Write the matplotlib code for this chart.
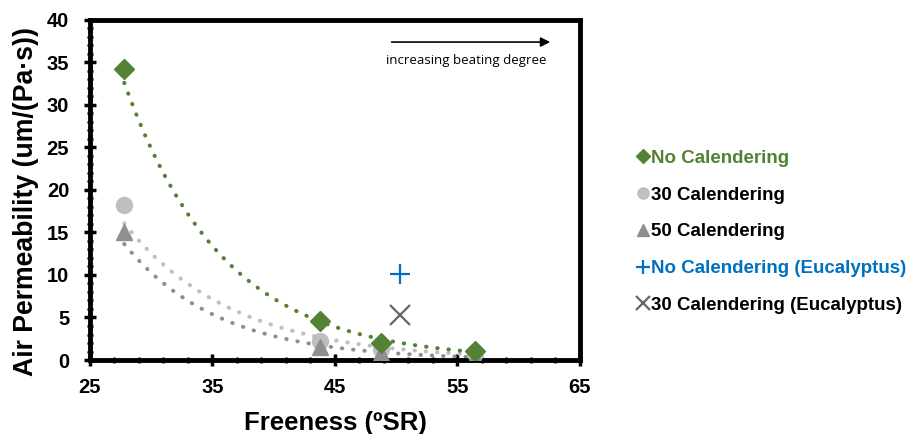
import numpy as np
import matplotlib
matplotlib.use("Agg")
import matplotlib.pyplot as plt
from matplotlib.ticker import MultipleLocator, FixedLocator

plt.rcParams['font.family'] = ['Liberation Sans', 'DejaVu Sans']

freeness = [27.8, 43.8, 48.75, 56.4]
no_cal = [34.2, 4.6, 2.0, 1.1]
cal30 = [18.2, 2.2, 1.3, 0.8]
cal50 = [15.0, 1.5, 0.8, 0.4]
euc_x = [50.3]
euc_no_cal = [10.1]
euc_cal30 = [5.3]
x_ticks = [25, 35, 45, 55, 65]

green = '#548235'
lgray = '#bfbfbf'
dgray = '#8f8f8f'
blue = '#0070c0'
xgray = '#666666'

fig = plt.figure(figsize=(9.09, 4.34), dpi=100)
ax = fig.add_axes([0.099, 0.1705, 0.539, 0.7835])

def exp_trend(x, y):
    b, a = np.polyfit(np.array(x), np.log(np.array(y)), 1)
    xs = np.linspace(min(x), max(x), 200)
    return xs, np.exp(a + b * xs)

for ys, c in [(cal50, dgray), (cal30, lgray), (no_cal, green)]:
    xs, yt = exp_trend(freeness, ys)
    ax.plot(xs, yt, linestyle=(0, (0.1, 2.7)), dash_capstyle='round', color=c, lw=2.9, zorder=2)

h1, = ax.plot(freeness, no_cal, 'D', color=green, ms=10, ls='none', zorder=4, label='No Calendering')
h2, = ax.plot(freeness, cal30, 'o', color=lgray, ms=11.5, ls='none', zorder=3, label='30 Calendering')
h3, = ax.plot(freeness, cal50, '^', color=dgray, ms=12, ls='none', zorder=3, label='50 Calendering')
h4, = ax.plot(euc_x, euc_no_cal, '+', color=blue, ms=15, mew=1.6, ls='none', zorder=4, label='No Calendering (Eucalyptus)')
h5, = ax.plot(euc_x, euc_cal30, 'x', color=xgray, ms=14, mew=1.6, ls='none', zorder=4, label='30 Calendering (Eucalyptus)')

ax.set_xlim(25, 65)
ax.set_ylim(0, 40)
ax.xaxis.set_major_locator(FixedLocator(x_ticks))
ax.xaxis.set_minor_locator(MultipleLocator(2, offset=1))
ax.yaxis.set_major_locator(MultipleLocator(5))
ax.yaxis.set_minor_locator(MultipleLocator(1))
for s in ax.spines.values():
    s.set_linewidth(3.5)
ax.tick_params(axis='both', which='major', direction='inout', length=8, width=2.5, labelsize=14.5)
ax.tick_params(axis='x', which='major', pad=9)
ax.tick_params(axis='y', which='major', pad=11)
ax.tick_params(axis='both', which='minor', direction='inout', length=5, width=1.8)
for lbl in ax.get_xticklabels() + ax.get_yticklabels():
    lbl.set_fontweight('bold')

ax.set_xlabel('Freeness (ºSR)', fontsize=18.5, fontweight='bold', labelpad=10)
ax.set_ylabel('Air Permeability (um/(Pa·s))', fontsize=19.2, fontweight='bold')
ax.yaxis.set_label_coords(-0.104, 0.465)

ax.annotate('', xy=(62.8, 37.4), xytext=(49.4, 37.4),
            arrowprops=dict(arrowstyle='-|>', color='black', lw=1.2, mutation_scale=14))
ax.text(49.2, 35.2, 'increasing beating degree', fontsize=9.5, ha='left', va='center',
        family=['Open Sans', 'DejaVu Sans'])

leg = fig.legend(handles=[h1, h2, h3, h4, h5], loc='upper left', bbox_to_anchor=(0.683, 0.694),
                 frameon=False, handlelength=0.6, handletextpad=0.1, labelspacing=1.05,
                 markerscale=0.7, prop={'size': 13.5, 'weight': 'bold'},
                 labelcolor=[green, 'black', 'black', blue, 'black'])

fig.savefig('out.png', dpi=100)
